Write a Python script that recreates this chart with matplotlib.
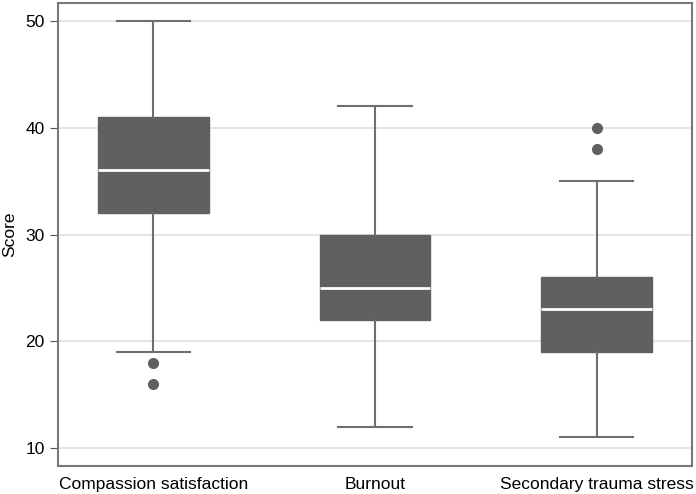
import numpy as np
import matplotlib
matplotlib.use('Agg')
import matplotlib.pyplot as plt

plt.rcParams['font.family'] = ['Liberation Sans', 'DejaVu Sans']

# box plot summary values
labels = ['Compassion satisfaction', 'Burnout', 'Secondary trauma stress']
whislo = [19, 12, 11]
q1 = [32, 22, 19]
med = [36, 25, 23]
q3 = [41, 30, 26]
whishi = [50, 42, 35]
fliers = [[18, 16], [], [38, 40]]

stats = []
for i in range(len(labels)):
    stats.append({'label': labels[i], 'whislo': whislo[i], 'q1': q1[i], 'med': med[i],
                  'q3': q3[i], 'whishi': whishi[i], 'fliers': fliers[i]})

fig = plt.figure(figsize=(6.96, 4.94), dpi=100)
ax = fig.add_axes([58/696, 1 - 466/494, 634/696, 463/494])

box_col = '#606060'
line_col = '#6e6e6e'
ax.bxp(stats, positions=[1, 2, 3], widths=0.5, patch_artist=True,
       boxprops=dict(facecolor=box_col, edgecolor=box_col, linewidth=1),
       medianprops=dict(color='white', linewidth=2),
       whiskerprops=dict(color=line_col, linewidth=1.5),
       capprops=dict(color=line_col, linewidth=1.5),
       capwidths=0.33,
       flierprops=dict(marker='o', markerfacecolor=box_col, markeredgecolor=box_col, markersize=7))

ax.set_xlim(0.57, 3.43)
ax.set_ylim(8.31, 51.69)
ax.set_yticks([10, 20, 30, 40, 50])
ax.yaxis.grid(True, color='#e0e0e0', linewidth=1.2)
ax.set_axisbelow(True)
ax.set_ylabel('Score', fontsize=12.5, labelpad=6)
ax.tick_params(axis='y', labelsize=12.5, length=6, color='#555555')
ax.tick_params(axis='x', labelsize=12.5, length=0, pad=8)
for s in ax.spines.values():
    s.set_color('#777777')
    s.set_linewidth(1.5)

fig.savefig('out.png', dpi=100)
